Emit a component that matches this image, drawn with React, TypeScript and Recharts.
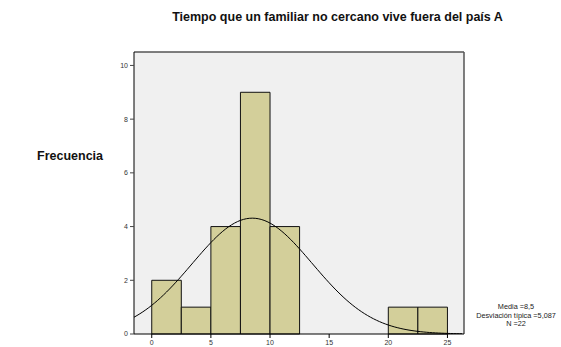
import React from 'react';
import { ComposedChart, Line, XAxis, YAxis, CartesianGrid, ReferenceArea, ReferenceLine } from 'recharts';

// histogram bins (width 2.5) and their counts
const binStarts = [0, 2.5, 5, 7.5, 10, 12.5, 15, 17.5, 20, 22.5];
const binCounts = [2, 1, 4, 9, 4, 0, 0, 0, 1, 1];
const binWidth = 2.5;

const xTicks = [0, 5, 10, 15, 20, 25];
const yTicks = [0, 2, 4, 6, 8, 10];

// summary shown beside the plot
const media = 8.5;
const desviacion = 5.087;
const n = 22;

const X_MIN = -1.5;
const X_MAX = 26.4;
const Y_MAX = 10.5;

// fitted normal curve scaled to counts (N * bin width)
const curveXs: number[] = [];
for (let x = X_MIN; x <= X_MAX + 1e-9; x += 0.25) curveXs.push(Math.round(x * 100) / 100);
const curveData = curveXs.map(x => {
  const z = (x - media) / desviacion;
  return { x, y: (n * binWidth) / (desviacion * Math.sqrt(2 * Math.PI)) * Math.exp(-0.5 * z * z) };
});

const font = '"Liberation Sans", Arial, sans-serif';
const tickStyle = { fontSize: 7, fill: '#333', fontFamily: font };

export default function App() {
  return (
    <div style={{ position: 'absolute', left: 0, top: 0, width: 561, height: 347, background: '#fff', fontFamily: font }}>
      <div style={{ position: 'absolute', left: 0, width: 561, top: 10, textAlign: 'center', paddingLeft: 114, boxSizing: 'border-box', fontSize: 12.5, fontWeight: 'bold', color: '#111' }}>
        Tiempo que un familiar no cercano vive fuera del país A
      </div>
      <div style={{ position: 'absolute', left: 37, top: 149, fontSize: 12.5, fontWeight: 'bold', color: '#111' }}>
        Frecuencia
      </div>
      <div style={{ position: 'absolute', left: 466, width: 100, top: 303, fontSize: 7.3, lineHeight: '8.5px', textAlign: 'center', color: '#222', whiteSpace: 'nowrap' }}>
        <div>Media ={String(media).replace('.', ',')}</div>
        <div>Desviación típica ={String(desviacion).replace('.', ',')}</div>
        <div>N ={n}</div>
      </div>
      <ComposedChart width={561} height={347} data={curveData} margin={{ top: 52, right: 97, bottom: 0, left: 0 }}>
        <CartesianGrid fill="#F0F0F0" horizontal={false} vertical={false} />
        <XAxis
          type="number"
          dataKey="x"
          domain={[X_MIN, X_MAX]}
          ticks={xTicks}
          allowDataOverflow
          height={13}
          tickSize={4}
          tick={tickStyle}
          axisLine={{ stroke: '#000' }}
          tickLine={{ stroke: '#000' }}
        />
        <YAxis
          type="number"
          domain={[0, Y_MAX]}
          ticks={yTicks}
          allowDataOverflow
          width={134}
          tickSize={4}
          tick={tickStyle}
          axisLine={{ stroke: '#000' }}
          tickLine={{ stroke: '#444' }}
        />
        <ReferenceLine y={Y_MAX} stroke="#555" strokeWidth={1.5} />
        <ReferenceLine x={X_MAX} stroke="#555" strokeWidth={1.5} />
        {binStarts.map((start, i) =>
          binCounts[i] > 0 ? (
            <ReferenceArea
              key={start}
              x1={start}
              x2={start + binWidth}
              y1={0}
              y2={binCounts[i]}
              fill="#D3CF9A"
              fillOpacity={1}
              stroke="#111"
              strokeWidth={1}
            />
          ) : null
        )}
        <Line type="monotone" dataKey="y" stroke="#000" strokeWidth={1} dot={false} isAnimationActive={false} />
      </ComposedChart>
    </div>
  );
}
